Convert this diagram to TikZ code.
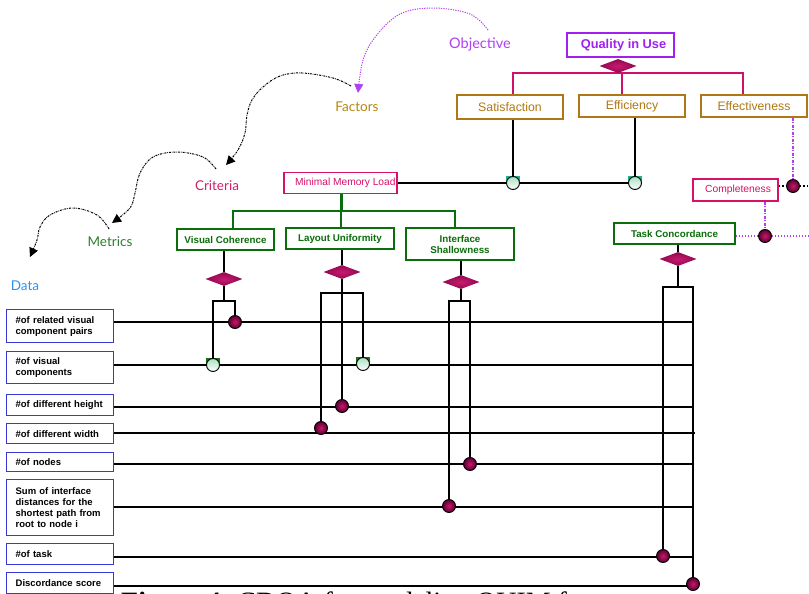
\documentclass[tikz,border=0pt]{standalone}
\usepackage{fontspec}
\setmainfont{Liberation Sans}
\newfontfamily\handfont{Lato}
\newfontfamily\capfont{Liberation Serif}
\usetikzlibrary{shapes.geometric,arrows.meta,backgrounds}
\definecolor{qpurple}{HTML}{A020F0}
\definecolor{pkline}{HTML}{D0106A}
\definecolor{fbrown}{HTML}{B07814}
\definecolor{crim}{HTML}{D8106A}
\definecolor{mgreen}{HTML}{0A6E0A}
\definecolor{dblue}{HTML}{3838D8}
\definecolor{objc}{HTML}{B040F0}
\definecolor{factc}{HTML}{B8860B}
\definecolor{critc}{HTML}{D0206A}
\definecolor{metc}{HTML}{2E7D2E}
\definecolor{datac}{HTML}{3090F0}
\definecolor{ballIn}{HTML}{C8186A}
\definecolor{ballOut}{HTML}{5A0030}
\definecolor{diaIn}{HTML}{C81A6E}
\definecolor{diaOut}{HTML}{900850}
\definecolor{gTop}{HTML}{A8E0C0}
\definecolor{tsq}{HTML}{20B090}
\definecolor{gsq}{HTML}{1B6E1B}
\tikzset{
  bx/.style={draw, line width=1.3pt, fill=white, inner sep=0pt, align=center},
  qbx/.style={bx, draw=qpurple, text=qpurple, font=\fontsize{12.8}{14}\selectfont\bfseries},
  fbx/.style={bx, draw=fbrown, text=fbrown, font=\fontsize{12.3}{14}\selectfont},
  cbx/.style={bx, draw=crim, text=crim, font=\fontsize{10.3}{12}\selectfont},
  mbx/.style={bx, draw=mgreen, text=mgreen, font=\fontsize{9.8}{11}\selectfont\bfseries},
  dbx/.style={bx, draw=dblue, text=black, anchor=north west, align=left,
    text width=89pt, inner xsep=9pt, font=\fontsize{9.5}{11}\selectfont\bfseries},
  dia/.style={diamond, draw=none, inner color=diaIn, outer color=diaOut,
    minimum width=37pt, minimum height=14pt, inner sep=0pt},
  mball/.style={circle, draw=black, line width=0.9pt, inner color=ballIn,
    outer color=ballOut, minimum size=13pt, inner sep=0pt},
  gball/.style={circle, draw=black, line width=0.9pt, top color=gTop,
    bottom color=white, minimum size=13pt, inner sep=0pt},
  ln/.style={line width=1.1pt, black},
  pk/.style={line width=1.3pt, pkline},
  grn/.style={line width=1.3pt, mgreen},
  hand/.style={font=\handfont\fontsize{13.5}{15}\selectfont},
  curveblk/.style={line width=1pt, black, dash pattern=on 2pt off 1pt on 0.6pt off 1pt,
    -{Triangle[length=9pt,width=9pt]}},
  curvepur/.style={line width=1pt, objc, dash pattern=on 1.2pt off 1.2pt,
    -{Triangle[length=9pt,width=9pt]}},
  pdash/.style={line width=1.2pt, objc, dash pattern=on 3pt off 1.5pt on 1pt off 1.5pt},
  pdot/.style={line width=1.2pt, objc, dash pattern=on 1.5pt off 1.5pt},
  bdot/.style={line width=1.4pt, black, dash pattern=on 1.5pt off 2pt},
}
\begin{document}
\begin{tikzpicture}[x=1pt,y=-1pt]
\useasboundingbox (0,0) rectangle (809,594);
\clip (0,0) rectangle (809,594);

% level labels
\node[hand, text=objc, font=\handfont\fontsize{14.5}{16}\selectfont] (obj) at (480,44) {Objective};
\node[hand, text=factc] (fac) at (357,107) {Factors};
\node[hand, text=critc] (cri) at (217,186) {Criteria};
\node[hand, text=metc] (met) at (110,242) {Metrics};
\node[hand, text=datac] (dat) at (25,286) {Data};

\draw[curvepur] plot[smooth, tension=0.6] coordinates {(488,30) (470,14) (433,8) (400,14) (376,36) (363,60) (358,93)};
\draw[curveblk] plot[smooth, tension=0.6] coordinates {(351,86) (333,78) (302,73) (280,76) (263,87) (252,100) (247,115) (245,133) (238,150) (226,165)};
\draw[curveblk] plot[smooth, tension=0.6] coordinates {(216,169) (203,157) (177,152) (153,157) (140,173) (135,193) (130,208) (112,223)};
\draw[curveblk] plot[smooth, tension=0.6] coordinates {(109,229) (97,215) (73,208) (50,215) (40,227) (37,240) (30,257)};

% top hierarchy
\node[qbx, minimum width=107pt, minimum height=24pt] (qiu) at (620.5,45) {\hspace*{6pt}Quality in Use};
\node[dia] (dq) at (618,66) {};
\node[fbx, minimum width=106pt, minimum height=24pt] (sat) at (510,107) {Satisfaction};
\node[fbx, minimum width=106pt, minimum height=22pt] (eff) at (632,106) {Efficiency};
\node[fbx, minimum width=106pt, minimum height=22pt] (efv) at (754,106) {Effectiveness};

\node[cbx, minimum width=113pt, minimum height=21pt] (mml) at (340.5,183) {};
\node[anchor=west, text=crim, font=\fontsize{10.2}{12}\selectfont, inner sep=0pt] (mmlt) at (295,183) {Minimal Memory Load};
\node[cbx, minimum width=85pt, minimum height=22pt] (cmp) at (735.5,190) {\hspace*{5pt}Completeness};

\fill[tsq] (506,176) rectangle (520,183);
\fill[tsq] (628,176) rectangle (642,183);
\node[gball] (gS) at (513,183) {};
\node[gball] (gE) at (635,183) {};
\node[mball] (bEf) at (793,186) {};
\node[mball] (bCp) at (765,236) {};

% criteria / metrics boxes
\node[mbx, minimum width=97pt, minimum height=21pt] (vc) at (225.5,239.5) {Visual Coherence};
\node[mbx, minimum width=108pt, minimum height=21pt] (lu) at (340,238.5) {Layout Uniformity};
\node[mbx, minimum width=108pt, minimum height=32pt] (is) at (460,244) {Interface\\Shallowness};
\node[mbx, minimum width=121pt, minimum height=21pt] (tc) at (674.5,233.5) {Task Concordance};

\node[dia] (dvc) at (224,279) {};
\node[dia] (dlu) at (342,272) {};
\node[dia] (dis) at (461,282) {};
\node[dia] (dtc) at (678,259) {};

% data boxes
\node[dbx, minimum height=33pt] (d1) at (6,309) {\#of related visual\\component pairs};
\node[dbx, minimum height=32pt] (d2) at (6,351) {\#of visual\\components};
\node[dbx, minimum height=21pt] (d3) at (6,394) {\#of different height};
\node[dbx, minimum height=20pt] (d4) at (6,423) {\#of different width};
\node[dbx, minimum height=19pt] (d5) at (6,452) {\#of nodes};
\node[dbx, minimum height=56pt] (d6) at (6,479) {Sum of interface\\distances for the\\shortest path from\\root to node i};
\node[dbx, minimum height=21pt] (d7) at (6,543) {\#of task};
\node[dbx, minimum height=21pt] (d8) at (6,572) {Discordance score};

% junction balls
\node[mball] (bVC) at (235,322) {};
\fill[gsq] (206,358) rectangle (220,365);
\node[gball] (gVC) at (213,365) {};
\node[mball] (bLU1) at (321,428) {};
\node[mball] (bLU2) at (342,406) {};
\fill[gsq] (356,357) rectangle (370,364);
\node[gball] (gLU) at (363,364) {};
\node[mball] (bIS1) at (449,506) {};
\node[mball] (bIS2) at (470,464) {};
\node[mball] (bTC1) at (663,556) {};
\node[mball] (bTC2) at (693,584) {};

% coordinates
\coordinate (qL) at (513,73);
\coordinate (qM) at (622,73);
\coordinate (qR) at (743,73);
\coordinate (gstub) at (341,211);
\coordinate (gL) at (233,211);
\coordinate (gR) at (455,211);
\coordinate (vcb) at (224,301);
\coordinate (lub) at (342,293);
\coordinate (isb) at (461,301);
\coordinate (tcb) at (678,287);
\coordinate (rEf) at (809,186);
\coordinate (rCp) at (809,236);
\coordinate (r1) at (693,322);
\coordinate (r2) at (693,365);
\coordinate (r3) at (693,407);
\coordinate (r4) at (695,433);
\coordinate (r5) at (693,464);
\coordinate (r6) at (693,507);
\coordinate (r7) at (693,557);
\coordinate (r8) at (693,586);

\begin{scope}[on background layer]
\draw[pk] (sat.north -| qL) -- (qL) -- (qR) -- (efv.north -| qR);
\draw[pk] (qM) -- (eff.north -| qM);
\draw[pk] (dq) -- (dq |- qL);
\draw[ln] (sat.south -| gS) -- (gS);
\draw[ln] (eff.south -| gE) -- (gE);
\draw[ln] (mml.east |- gS) -- (gS) -- (gE);
\draw[mgreen, line width=3pt] (mml.south -| gstub) -- (gstub);
\draw[grn] (vc.north -| gL) -- (gL) -- (gR) -- (is.north -| gR);
\draw[grn] (lu.north -| gstub) -- (gstub);
\draw[pdash] (efv.south -| bEf) -- (bEf);
\draw[bdot] (cmp.east |- bEf) -- (bEf) -- (rEf);
\draw[pdash] (cmp.south -| bCp) -- (bCp);
\draw[pdot] (tc.east |- bCp) -- (bCp) -- (rCp);
% metric trees
\draw[ln] (vc.south -| dvc) -- (dvc) -- (vcb);
\draw[ln] (gVC) |- (vcb) -| (bVC);
\draw[ln] (lu.south -| dlu) -- (dlu) -- (bLU2);
\draw[ln] (bLU1) |- (lub) -| (gLU);
\draw[ln] (is.south -| dis) -- (dis) -- (isb);
\draw[ln] (bIS1) |- (isb) -| (bIS2);
\draw[ln] (tc.south -| dtc) -- (dtc) -- (tcb);
\draw[ln] (bTC1) |- (tcb) -| (bTC2);
% data lines
\draw[ln] (d1.east |- r1) -- (r1);
\draw[ln] (d2.east |- r2) -- (r2);
\draw[ln] (d3.east |- r3) -- (r3);
\draw[ln] (d4.east |- r4) -- (r4);
\draw[ln] (d5.east |- r5) -- (r5);
\draw[ln] (d6.east |- r6) -- (r6);
\draw[ln] (d7.east |- r7) -- (r7);
\draw[ln] (d8.east |- r8) -- (r8);
\end{scope}

% caption (cut off at the lower edge, as in the reference)
\node[anchor=base west, inner sep=0pt, font=\capfont\fontsize{28}{30}\selectfont] (cap) at (121,611) {\textbf{Figure 4.} CDOA for modeling QUIM for};
\end{tikzpicture}
\end{document}
